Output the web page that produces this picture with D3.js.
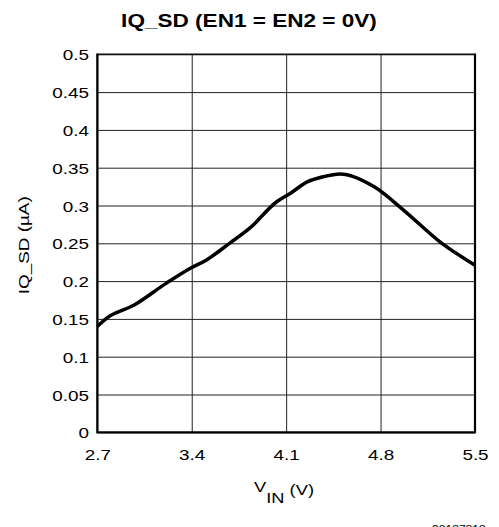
<!DOCTYPE html>
<html>
<head>
<meta charset="utf-8">
<script src="https://cdn.jsdelivr.net/npm/d3@7"></script>
<style>
  html, body { margin: 0; padding: 0; background: #fff; }
  svg text { font-family: "Liberation Sans", Arial, Helvetica, sans-serif; fill: #000; }
</style>
</head>
<body>
<svg id="chart" width="499" height="527"></svg>
<script>
// ---- data ----
const vin = [2.7, 2.77, 2.97, 3.21, 3.39, 3.51, 3.68, 3.83, 4.03, 4.13, 4.26, 4.375, 4.5, 4.75, 4.97, 5.24, 5.5];
const iq  = [0.14, 0.151, 0.168, 0.197, 0.217, 0.228, 0.25, 0.27, 0.305, 0.316, 0.3315, 0.338, 0.3417, 0.325, 0.294, 0.252, 0.221];
const xTicks = [2.7, 3.4, 4.1, 4.8, 5.5];
const xTickLabels = ["2.7", "3.4", "4.1", "4.8", "5.5"];
const yTicks = [0, 0.05, 0.1, 0.15, 0.2, 0.25, 0.3, 0.35, 0.4, 0.45, 0.5];
const yTickLabels = ["0", "0.05", "0.1", "0.15", "0.2", "0.25", "0.3", "0.35", "0.4", "0.45", "0.5"];
const titleText = "IQ_SD (EN1 = EN2 = 0V)";
const yLabelText = "IQ_SD (\u00B5A)";
const figId = "20187818";

// ---- layout ----
const SX = 1.22; // horizontal stretch of the reference typeface
const L = 97.3, R = 475, T = 54.3, B = 432.3;
const W = R - L, H = B - T;

const svg = d3.select("#chart");
const x = d3.scaleLinear().domain([2.7, 5.5]).range([L, R]);
const y = d3.scaleLinear().domain([0, 0.5]).range([B, T]);

// title
svg.append("text")
  .attr("transform", `translate(249,27) scale(${SX},1)`)
  .attr("text-anchor", "middle")
  .attr("font-size", 18.5)
  .attr("font-weight", "bold")
  .text(titleText);

// x axis with vertical gridlines
const gx = svg.append("g")
  .attr("transform", `translate(0,${B})`)
  .call(d3.axisBottom(x).tickValues(xTicks).tickSize(-H)
    .tickFormat((d, i) => xTickLabels[i]));
gx.select(".domain").remove();
gx.selectAll(".tick line").attr("stroke", "#222").attr("stroke-width", 1);
gx.selectAll(".tick text")
  .attr("y", 27.7).attr("dy", 0)
  .attr("transform", `scale(${SX},1)`)
  .attr("font-size", 15.5)
  .attr("font-family", "Liberation Sans, Arial, sans-serif")
  .attr("fill", "#000");

// y axis with horizontal gridlines
const gy = svg.append("g")
  .attr("transform", `translate(${L},0)`)
  .call(d3.axisLeft(y).tickValues(yTicks).tickSize(-W)
    .tickFormat((d, i) => yTickLabels[i]));
gy.select(".domain").remove();
gy.selectAll(".tick line").attr("stroke", "#222").attr("stroke-width", 1);
gy.selectAll(".tick text")
  .attr("x", -8.3 / SX).attr("dy", "0.36em")
  .attr("transform", `scale(${SX},1)`)
  .attr("font-size", 15.5)
  .attr("font-family", "Liberation Sans, Arial, sans-serif")
  .attr("fill", "#000");

// frame
svg.append("line").attr("x1", L).attr("x2", R).attr("y1", T).attr("y2", T)
  .attr("stroke", "#111").attr("stroke-width", 1.5);
svg.append("line").attr("x1", L).attr("x2", R).attr("y1", B).attr("y2", B)
  .attr("stroke", "#000").attr("stroke-width", 2.2);
svg.append("line").attr("x1", L).attr("x2", L).attr("y1", T - 0.7).attr("y2", B + 1)
  .attr("stroke", "#000").attr("stroke-width", 2.2);
svg.append("line").attr("x1", R).attr("x2", R).attr("y1", T - 0.7).attr("y2", B + 1)
  .attr("stroke", "#000").attr("stroke-width", 2.2);

// curve
const pts = vin.map((v, i) => [v, iq[i]]);
svg.append("path")
  .datum(pts)
  .attr("fill", "none")
  .attr("stroke", "#000")
  .attr("stroke-width", 3.5)
  .attr("stroke-linejoin", "round")
  .attr("d", d3.line().x(d => x(d[0])).y(d => y(d[1])).curve(d3.curveMonotoneX));

// y label
svg.append("text")
  .attr("transform", `translate(28.5,${(T + B) / 2 + 2}) rotate(-90) scale(${SX},1)`)
  .attr("text-anchor", "middle")
  .attr("font-size", 15.5)
  .text(yLabelText);

// x label V_IN (V)
const xl = svg.append("text")
  .attr("transform", `translate(284,491.7) scale(${SX},1)`)
  .attr("text-anchor", "middle")
  .attr("font-size", 15);
xl.append("tspan").text("V");
xl.append("tspan").attr("dy", 11.6).text("IN");
xl.append("tspan").attr("dy", -8.8).text(" (V)");

// figure id (cut off at bottom edge)
svg.append("text")
  .attr("transform", `translate(432,533) scale(1.1,1)`)
  .attr("font-size", 11)
  .text(figId);
</script>
</body>
</html>
